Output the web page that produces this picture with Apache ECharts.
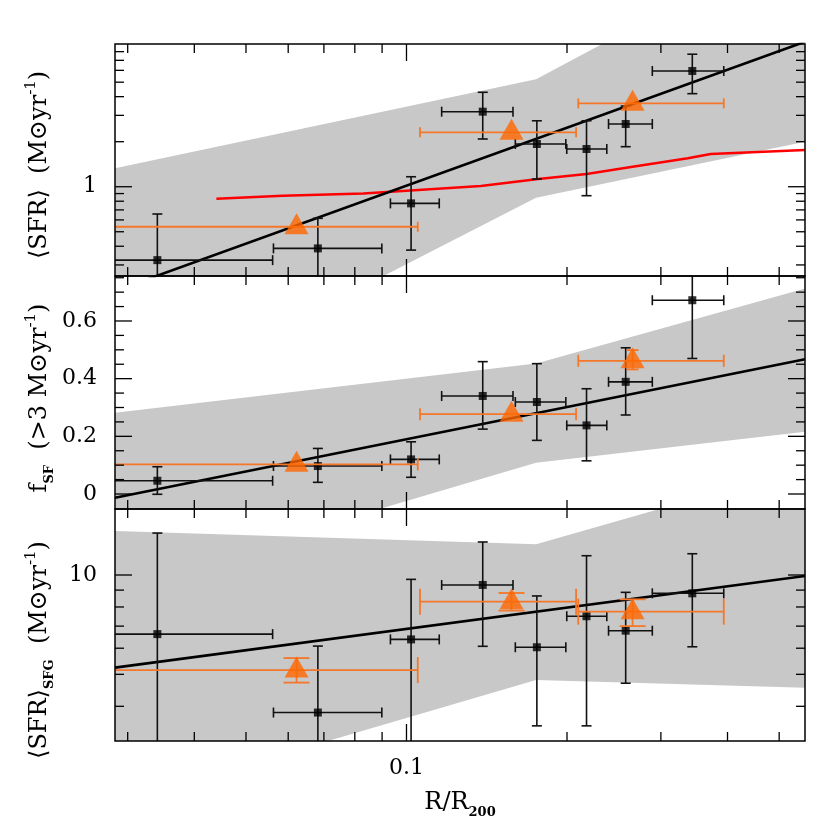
<!DOCTYPE html>
<html><head><meta charset="utf-8">
<script src="https://cdn.jsdelivr.net/npm/echarts@6/dist/echarts.min.js"></script>
<style>html,body{margin:0;padding:0;background:#fff}#c{width:830px;height:830px}</style>
</head><body><div id="c"></div>
<script>
// ---------- shared x (R/R200) ----------
const xRange = [0.0284, 0.559];
const xBlack   = [0.0341, 0.0682, 0.102, 0.139, 0.1756, 0.2176, 0.2577, 0.3436];
const xBlackLo = [0.0200, 0.0563, 0.0933, 0.1164, 0.160, 0.1998, 0.2393, 0.2891];
const xBlackHi = [0.0561, 0.0899, 0.1152, 0.1584, 0.199, 0.2375, 0.2891, 0.3936];
const xTri   = [0.0622, 0.1574, 0.2655];
const xTriLo = [0.0200, 0.106, 0.210];
const xTriHi = [0.105, 0.208, 0.3936];
const xTickMajor = [0.1];
const xTickMinor = [0.03, 0.04, 0.05, 0.06, 0.07, 0.08, 0.09, 0.2, 0.3, 0.4, 0.5];
const xTickLabels = ['0.1'];
const bandX = [0.0284, 0.175, 0.559];
const fitX = [0.0284, 0.559];

// ---------- panel 1 : <SFR> ----------
const p1Range = [0.253, 9.0];
const p1Black   = [0.323, 0.387, 0.774, 3.175, 1.93, 1.787, 2.626, 5.94];
const p1BlackLo = [0.15, 0.15, 0.377, 2.085, 1.126, 0.871, 1.852, 4.19];
const p1BlackHi = [0.657, 0.615, 1.166, 4.28, 2.76, 2.76, 3.465, 7.69];
const p1Tri = [0.54, 2.31, 3.61];
const p1TriLo = [0, 0, 0];
const p1TriHi = [0, 0, 0];
const p1RedX = [0.044, 0.0586, 0.083, 0.1378, 0.1767, 0.2177, 0.2655, 0.337, 0.372, 0.559];
const p1RedY = [0.831, 0.871, 0.902, 1.011, 1.126, 1.216, 1.361, 1.549, 1.654, 1.76];
const p1FitY = [0.201, 9.32];
const p1BandHi = [1.328, 5.23, 47.7];
const p1BandLo = [0.0304, 0.844, 2.0];
const p1TickMajor = [1];
const p1TickMinor = [0.3, 0.4, 0.5, 0.6, 0.7, 0.8, 0.9, 2, 3, 4, 5, 6, 7, 8];
const p1TickLabels = ['1'];

// ---------- panel 2 : f_SF ----------
const p2Range = [-0.052, 0.756];
const p2Black   = [0.046, 0.097, 0.120, 0.340, 0.319, 0.238, 0.389, 0.672];
const p2BlackLo = [-0.001, 0.0405, 0.058, 0.225, 0.186, 0.115, 0.274, 0.470];
const p2BlackHi = [0.0946, 0.158, 0.181, 0.459, 0.452, 0.365, 0.507, 0.80];
const p2Tri = [0.103, 0.277, 0.462];
const p2TriLo = [0, 0, 0.432];
const p2TriHi = [0, 0, 0.499];
const p2FitY = [-0.0128, 0.467];
const p2BandHi = [0.282, 0.453, 0.713];
const p2BandLo = [-0.323, 0.1085, 0.216];
const p2TickMajor = [0, 0.2, 0.4, 0.6];
const p2TickMinor = [0.05, 0.1, 0.15, 0.25, 0.3, 0.35, 0.45, 0.5, 0.55, 0.65, 0.7, 0.75];
const p2TickLabels = ['0', '0.2', '0.4', '0.6'];

// ---------- panel 3 : <SFR>_SFG ----------
const p3Range = [3.14, 15.85];
const p3Black   = [6.62, 3.83, 6.38, 9.33, 6.04, 7.50, 6.78, 8.80];
const p3BlackLo = [2.0, 2.0, 2.0, 6.08, 3.49, 3.49, 4.70, 6.06];
const p3BlackHi = [13.4, 6.09, 9.70, 12.59, 8.64, 11.44, 8.86, 11.6];
const p3Tri = [5.15, 8.30, 7.74];
const p3TriLo = [4.72, 7.80, 7.0];
const p3TriHi = [5.6, 8.82, 8.44];
const p3FitY = [5.24, 9.93];
const p3BandHi = [13.6, 12.39, 21.2];
const p3BandLo = [2.03, 4.81, 4.55];
const p3TickMajor = [10];
const p3TickMinor = [4, 5, 6, 7, 8, 9];
const p3TickLabels = ['10'];

// ---------- styling ----------
const FONT = '"DejaVu Serif", "Liberation Serif", serif';
const GRAY = '#c8c8c8', ORANGE = '#ff6600', ORANGE_BAR = '#f5772a', RED = '#ff0000';
const grids = [
  {left: 115, width: 690, top: 44, height: 232},
  {left: 115, width: 690, top: 276, height: 233},
  {left: 115, width: 690, top: 509, height: 232}
];

const panels = [
  {range: p1Range, type: 'log', black: p1Black, bLo: p1BlackLo, bHi: p1BlackHi, tri: p1Tri, tLo: p1TriLo, tHi: p1TriHi,
   fit: p1FitY, bandHi: p1BandHi, bandLo: p1BandLo, major: p1TickMajor, minor: p1TickMinor, labels: p1TickLabels, triCap: 5},
  {range: p2Range, type: 'value', black: p2Black, bLo: p2BlackLo, bHi: p2BlackHi, tri: p2Tri, tLo: p2TriLo, tHi: p2TriHi,
   fit: p2FitY, bandHi: p2BandHi, bandLo: p2BandLo, major: p2TickMajor, minor: p2TickMinor, labels: p2TickLabels, triCap: 6},
  {range: p3Range, type: 'log', black: p3Black, bLo: p3BlackLo, bHi: p3BlackHi, tri: p3Tri, tLo: p3TriLo, tHi: p3TriHi,
   fit: p3FitY, bandHi: p3BandHi, bandLo: p3BandLo, major: p3TickMajor, minor: p3TickMinor, labels: p3TickLabels, triCap: 13}
];

function seg(x1, y1, x2, y2, color, w) {
  return {type: 'line', shape: {x1, y1, x2, y2}, style: {stroke: color, lineWidth: w, lineCap: 'butt'}};
}

function errRender(color, w, capX, capY) {
  return function (params, api) {
    const x = api.value(0), y = api.value(1), xl = api.value(2), xh = api.value(3), yl = api.value(4), yh = api.value(5);
    const ch = [];
    const pl = api.coord([xl, y]), ph = api.coord([xh, y]);
    ch.push(seg(pl[0], pl[1], ph[0], ph[1], color, w));
    ch.push(seg(pl[0], pl[1] - capX, pl[0], pl[1] + capX, color, w));
    ch.push(seg(ph[0], ph[1] - capX, ph[0], ph[1] + capX, color, w));
    if (yl !== 0 || yh !== 0) {
      const ql = api.coord([x, yl]), qh = api.coord([x, yh]);
      ch.push(seg(ql[0], ql[1], qh[0], qh[1], color, w));
      ch.push(seg(ql[0] - capY, ql[1], ql[0] + capY, ql[1], color, w));
      ch.push(seg(qh[0] - capY, qh[1], qh[0] + capY, qh[1], color, w));
    }
    return {type: 'group', children: ch};
  };
}

function bandRender(p) {
  return function (params, api) {
    if (params.dataIndex !== 0) return null;
    const pts = [];
    for (let i = 0; i < bandX.length; i++) pts.push(api.coord([bandX[i], p.bandHi[i]]));
    for (let i = bandX.length - 1; i >= 0; i--) pts.push(api.coord([bandX[i], p.bandLo[i]]));
    return {type: 'polygon', shape: {points: pts}, style: {fill: GRAY, stroke: null}};
  };
}

function frameRender(gi) {
  const p = panels[gi];
  return function (params, api) {
    const cs = params.coordSys;
    const L = cs.x, T = cs.y, R = cs.x + cs.width, B = cs.y + cs.height;
    const yRef = p.major[0], xRef = 0.1;
    const ch = [];
    const tw = 1.3;
    xTickMinor.forEach(v => { const px = api.coord([v, yRef])[0];
      ch.push(seg(px, B, px, B - 9, '#000', tw)); ch.push(seg(px, T, px, T + 9, '#000', tw)); });
    xTickMajor.forEach((v, i) => { const px = api.coord([v, yRef])[0];
      ch.push(seg(px, B, px, B - 17, '#000', tw)); ch.push(seg(px, T, px, T + 17, '#000', tw));
      if (gi === 2) ch.push({type: 'text', style: {text: xTickLabels[i], x: px, y: B + 16, align: 'center', verticalAlign: 'top', font: '22px ' + FONT, fill: '#000'}});
    });
    p.minor.forEach(v => { const py = api.coord([xRef, v])[1];
      ch.push(seg(L, py, L + 9, py, '#000', tw)); ch.push(seg(R, py, R - 9, py, '#000', tw)); });
    p.major.forEach((v, i) => { const py = api.coord([xRef, v])[1];
      ch.push(seg(L, py, L + 17, py, '#000', tw)); ch.push(seg(R, py, R - 17, py, '#000', tw));
      ch.push({type: 'text', style: {text: p.labels[i], x: L - 18, y: py, align: 'right', verticalAlign: 'middle', font: '22px ' + FONT, fill: '#000'}});
    });
    ch.push({type: 'rect', shape: {x: L, y: T, width: cs.width, height: cs.height}, style: {fill: 'none', stroke: '#000', lineWidth: 1.5}});
    return {type: 'group', children: ch};
  };
}

const xAxes = [], yAxes = [], series = [];
panels.forEach((p, gi) => {
  xAxes.push({type: 'log', gridIndex: gi, min: xRange[0], max: xRange[1], show: false});
  yAxes.push({type: p.type, gridIndex: gi, min: p.range[0], max: p.range[1], show: false});
  const ax = {xAxisIndex: gi, yAxisIndex: gi};
  series.push(Object.assign({type: 'custom', clip: true, z: 1, silent: true,
    data: bandX.map((x, i) => [x, p.bandHi[i]]), renderItem: bandRender(p)}, ax));
  if (gi === 0) {
    series.push(Object.assign({type: 'line', z: 2, showSymbol: false, clip: true, silent: true,
      lineStyle: {color: RED, width: 2.6}, data: p1RedX.map((x, i) => [x, p1RedY[i]])}, ax));
  }
  series.push(Object.assign({type: 'line', z: 2, showSymbol: false, clip: true, silent: true,
    lineStyle: {color: '#000', width: 2.6}, data: fitX.map((x, i) => [x, p.fit[i]])}, ax));
  series.push(Object.assign({type: 'custom', clip: true, z: 3, silent: true,
    encode: {x: 0, y: 1},
    data: xBlack.map((x, i) => [x, p.black[i], xBlackLo[i], xBlackHi[i], p.bLo[i], p.bHi[i]]),
    renderItem: errRender('#111', 1.6, 5, 5)}, ax));
  series.push(Object.assign({type: 'scatter', z: 4, silent: true, symbol: 'rect', symbolSize: 8,
    itemStyle: {color: '#000'}, data: xBlack.map((x, i) => [x, p.black[i]])}, ax));
  series.push(Object.assign({type: 'custom', clip: true, z: 5, silent: true,
    encode: {x: 0, y: 1},
    data: xTri.map((x, i) => [x, p.tri[i], xTriLo[i], xTriHi[i], p.tLo[i], p.tHi[i]]),
    renderItem: errRender(ORANGE_BAR, 1.8, p.triCap, p.triCap)}, ax));
  series.push(Object.assign({type: 'scatter', z: 6, silent: true, symbol: 'triangle', symbolSize: [24, 21],
    symbolOffset: [0, -3], itemStyle: {color: ORANGE}, data: xTri.map((x, i) => [x, p.tri[i]])}, ax));
  series.push(Object.assign({type: 'custom', clip: false, z: 10, silent: true,
    data: [[0.1, p.major[0]]], renderItem: frameRender(gi)}, ax));
});

const rich = {
  b: {fontFamily: FONT, fontSize: 24, lineHeight: 32, verticalAlign: 'middle', color: '#000'},
  sub: {fontFamily: FONT, fontSize: 13, lineHeight: 15, verticalAlign: 'bottom', color: '#000', fontWeight: 'bold'},
  sup: {fontFamily: FONT, fontSize: 15, lineHeight: 21, verticalAlign: 'top', color: '#000'}
};
function title(text, x, y, rot) {
  return {type: 'text', x: x, y: y, rotation: rot, z: 20,
    style: {text: text, rich: rich, align: 'center', verticalAlign: 'middle', fill: '#000'}};
}

const chart = echarts.init(document.getElementById('c'), null, {renderer: 'canvas'});
chart.setOption({
  animation: false,
  backgroundColor: '#fff',
  grid: grids,
  xAxis: xAxes,
  yAxis: yAxes,
  series: series,
  graphic: [
    title('{b|⟨SFR⟩  (M⊙yr}{sup|-1}{b|)}', 40, 165, Math.PI / 2),
    title('{b|f}{sub|SF}{b|  (>3 M⊙yr}{sup|-1}{b|)}', 40, 398, Math.PI / 2),
    title('{b|⟨SFR⟩}{sub|SFG}{b|  (M⊙yr}{sup|-1}{b|)}', 40, 650, Math.PI / 2),
    title('{b|R/R}{sub|200}', 460, 803, 0)
  ]
});
</script></body></html>
